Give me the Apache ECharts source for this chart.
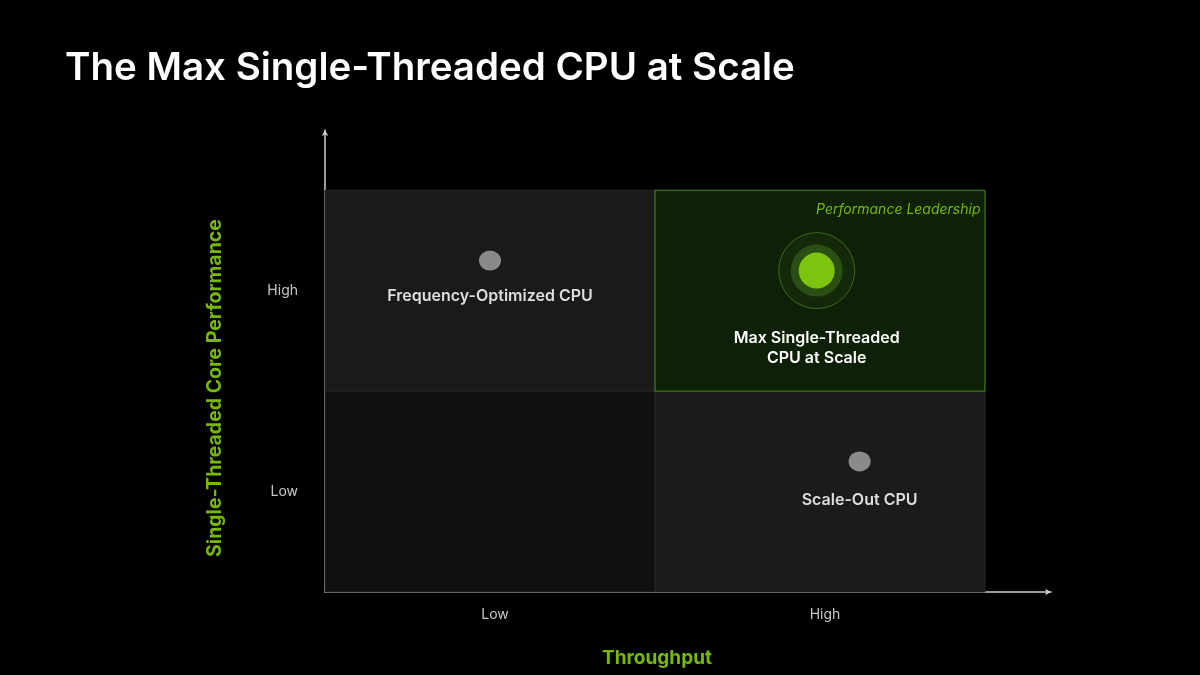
<!DOCTYPE html>
<html>
<head>
<meta charset="utf-8">
<script src="https://cdn.jsdelivr.net/npm/echarts@6/dist/echarts.min.js"></script>
<style>
html,body{margin:0;padding:0;background:#000;}
#c{width:1200px;height:675px;}
</style>
</head>
<body>
<div id="c"></div>
<script>
// ---- data ----
const xTickValues = [0.5, 1.5];
const xTickLabels = ['Low', 'High'];
const yTickValues = [0.5, 1.5];
const yTickLabels = ['Low', 'High'];
// quadrants: [x0, x1, y0, y1]
const quadLowLow = [0, 1, 0, 1];
const quadLowHigh = [0, 1, 1, 2];
const quadHighLow = [1, 2, 0, 1];
const quadHighHigh = [1, 2, 1, 2];
const leaderName = 'Performance Leadership';
const pointNames = ['Frequency-Optimized CPU', 'Scale-Out CPU', 'Max Single-Threaded\nCPU at Scale'];
const pointX = [0.50, 1.62, 1.49];
const pointY = [1.65, 0.65, 1.60];

const FONT = 'Inter, "Noto Sans", sans-serif';
const GREEN = '#76b900';

function qa(q, color, extra) {
  return [Object.assign({xAxis: q[0], yAxis: q[2], itemStyle: {color: color}}, extra || {}), {xAxis: q[1], yAxis: q[3]}];
}

const chart = echarts.init(document.getElementById('c'));
chart.setOption({
  backgroundColor: '#000',
  animation: false,
  title: {
    text: 'The Max Single-Threaded CPU at Scale',
    left: 60, top: 44,
    textStyle: {color: '#fff', fontFamily: FONT, fontWeight: 600, fontSize: 38.5}
  },
  grid: {left: 325, top: 130, width: 726, height: 462, containLabel: false, outerBoundsMode: 'none'},
  xAxis: {
    type: 'value', min: 0, max: 2.2, interval: 0.5,
    name: 'Throughput', nameLocation: 'middle', nameGap: 57,
    nameTextStyle: {color: GREEN, fontFamily: FONT, fontWeight: 700, fontSize: 19, padding: [0, 62, 0, 0]},
    axisLine: {show: true, lineStyle: {color: '#cfcfcf', width: 1.5}, symbol: ['none', 'arrow'], symbolSize: [5, 6]},
    axisTick: {show: false}, splitLine: {show: false},
    axisLabel: {
      color: '#c8c8c8', fontFamily: FONT, fontSize: 14, margin: 16, padding: [0, 0, 0, 10],
      formatter: v => { const i = xTickValues.indexOf(v); return i >= 0 ? xTickLabels[i] : ''; }
    }
  },
  yAxis: {
    type: 'value', min: 0, max: 2.3, interval: 0.5,
    name: 'Single-Threaded Core Performance', nameLocation: 'middle', nameGap: 100, nameRotate: 90,
    nameTextStyle: {color: GREEN, fontFamily: FONT, fontWeight: 700, fontSize: 19.5, padding: [0, 54, 0, 0]},
    axisLine: {show: true, lineStyle: {color: '#cfcfcf', width: 1.5}, symbol: ['none', 'arrow'], symbolSize: [5, 6]},
    axisTick: {show: false}, splitLine: {show: false},
    axisLabel: {
      color: '#c8c8c8', fontFamily: FONT, fontSize: 14, margin: 27,
      formatter: v => { const i = yTickValues.indexOf(v); return i >= 0 ? yTickLabels[i] : ''; }
    }
  },
  series: [
    {
      type: 'scatter', data: [], silent: true,
      markArea: {
        silent: true,
        label: {show: false},
        data: [
          qa(quadLowHigh, '#1a1a1a'),
          qa(quadLowLow, '#101010'),
          qa(quadHighLow, '#1b1b1b'),
        ],
        itemStyle: {borderColor: '#262626', borderWidth: 1}
      }
    },
    {
      type: 'scatter', data: [], silent: true,
      markArea: {
        silent: true,
        label: {show: true, position: 'insideTopRight', distance: 5, padding: [8, 0, 0, 0], color: GREEN, fontStyle: 'italic', fontFamily: FONT, fontSize: 14,
          formatter: leaderName},
        itemStyle: {color: '#0e2106', borderColor: '#4f8a1c', borderWidth: 1},
        data: [qa(quadHighHigh, '#0e2106', {name: leaderName})]
      }
    },
    {
      type: 'scatter', symbolSize: [22, 20], silent: true,
      itemStyle: {color: '#8a8a8a', opacity: 1},
      label: {show: true, position: 'bottom', distance: 18, color: '#dedede', fontFamily: FONT, fontWeight: 600, fontSize: 16,
        formatter: p => p.name},
      data: [
        {name: pointNames[0], value: [pointX[0], pointY[0]]},
        {name: pointNames[1], value: [pointX[1], pointY[1]], label: {distance: 21}}
      ]
    },
    {
      type: 'scatter', symbolSize: 76, silent: true,
      itemStyle: {color: '#13290a', borderColor: '#3d6a1c', borderWidth: 1, opacity: 1},
      data: [[pointX[2], pointY[2]]]
    },
    {
      type: 'scatter', symbolSize: 52, silent: true,
      itemStyle: {color: '#2b4f12', opacity: 1},
      data: [[pointX[2], pointY[2]]]
    },
    {
      type: 'scatter', symbolSize: 36, silent: true,
      itemStyle: {color: '#7cc40e', opacity: 1},
      label: {show: true, position: 'bottom', distance: 40, color: '#ffffff', fontFamily: FONT, fontWeight: 600, fontSize: 16, lineHeight: 20,
        align: 'center', formatter: p => p.name},
      data: [{name: pointNames[2], value: [pointX[2], pointY[2]]}]
    }
  ]
});
</script>
</body>
</html>
